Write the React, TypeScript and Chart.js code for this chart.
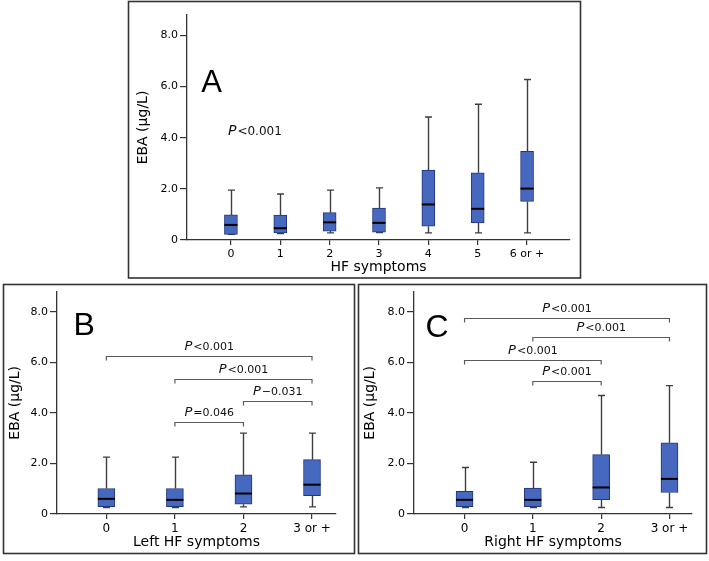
import React, { useEffect, useRef } from 'react';
import { Chart, registerables } from 'chart.js';
Chart.register(...registerables);

// ---------- DATA ----------
const catsA = ['0', '1', '2', '3', '4', '5', '6 or +'];
const minA = [0.22, 0.25, 0.28, 0.29, 0.28, 0.28, 0.28];
const q1A = [0.22, 0.28, 0.35, 0.31, 0.54, 0.67, 1.51];
const medA = [0.59, 0.46, 0.69, 0.67, 1.39, 1.22, 2.01];
const q3A = [0.98, 0.97, 1.07, 1.25, 2.73, 2.63, 3.47];
const maxA = [1.95, 1.80, 1.95, 2.04, 4.81, 5.31, 6.28];

const catsB = ['0', '1', '2', '3 or +'];
const minB = [0.26, 0.26, 0.28, 0.28];
const q1B = [0.29, 0.29, 0.39, 0.73];
const medB = [0.60, 0.56, 0.81, 1.16];
const q3B = [1.01, 1.01, 1.55, 2.15];
const maxB = [2.25, 2.25, 3.2, 3.2];

const catsC = ['0', '1', '2', '3 or +'];
const minC = [0.26, 0.26, 0.26, 0.26];
const q1C = [0.29, 0.29, 0.57, 0.85];
const medC = [0.56, 0.56, 1.05, 1.39];
const q3C = [0.90, 1.03, 2.35, 2.82];
const maxC = [1.84, 2.05, 4.69, 5.08];

const yTickValues = [0, 2, 4, 6, 8];
const yTickLabels = ['0', '2.0', '4.0', '6.0', '8.0'];

// brackets: from category, to category, level (µg/L), label after "P"
const brFromB = [0, 1, 2, 1];
const brToB = [3, 3, 3, 2];
const brLevelB = [6.24, 5.36, 4.47, 3.63];
const brTextB = ['<0.001', '<0.001', '\u22120.031', '=0.046'];

const brFromC = [0, 1, 0, 1];
const brToC = [3, 3, 2, 2];
const brLevelC = [7.74, 6.99, 6.11, 5.26];
const brTextC = ['<0.001', '<0.001', '<0.001', '<0.001'];

const overallTextA = '<0.001';

// ---------- STYLE ----------
const FONT = "'DejaVu Sans', sans-serif";
const BOX_FILL = '#4768bf';
const BOX_EDGE = '#24357a';
const AXIS = '#333';
const TEXT = '#000';

function drawPText(ctx: CanvasRenderingContext2D, rest: string, x: number, y: number, pSize: number, rSize: number, align: 'left' | 'center') {
  ctx.font = `italic ${pSize}px ${FONT}`;
  const wp = ctx.measureText('P').width;
  ctx.font = `${rSize}px ${FONT}`;
  const wr = ctx.measureText(rest).width;
  const total = wp + wr + 1;
  const sx = align === 'center' ? x - total / 2 : x;
  ctx.fillStyle = '#111';
  ctx.textAlign = 'left';
  ctx.textBaseline = 'alphabetic';
  const base = y + rSize * 0.36;
  ctx.font = `italic ${pSize}px ${FONT}`;
  ctx.fillText('P', sx, base);
  ctx.font = `${rSize}px ${FONT}`;
  ctx.fillText(rest, sx + wp + 1, base);
}

const boxPlugin = {
  id: 'boxExtras',
  beforeDraw(chart: any, _a: any, o: any) {
    const { ctx } = chart;
    ctx.save();
    ctx.strokeStyle = '#333';
    ctx.lineWidth = 1.6;
    ctx.strokeRect(o.frame[0], o.frame[1], o.frame[2], o.frame[3]);
    ctx.restore();
  },
  beforeDatasetsDraw(chart: any, _a: any, o: any) {
    const { ctx } = chart;
    const x = chart.scales.x, y = chart.scales.y;
    ctx.save();
    ctx.strokeStyle = '#3f3f3f';
    ctx.lineWidth = 1.4;
    for (let i = 0; i < o.mins.length; i++) {
      const px = Math.round(x.getPixelForValue(i)) + 0.5;
      const yMax = y.getPixelForValue(o.maxs[i]);
      const yMin = y.getPixelForValue(o.mins[i]);
      const yQ3 = y.getPixelForValue(o.q3s[i]);
      const yQ1 = y.getPixelForValue(o.q1s[i]);
      ctx.beginPath();
      ctx.moveTo(px, yQ3); ctx.lineTo(px, yMax);
      ctx.moveTo(px - o.capW / 2, yMax); ctx.lineTo(px + o.capW / 2, yMax);
      ctx.moveTo(px, yQ1); ctx.lineTo(px, yMin);
      ctx.moveTo(px - o.capW / 2, yMin); ctx.lineTo(px + o.capW / 2, yMin);
      ctx.stroke();
    }
    ctx.restore();
  },
  afterDatasetsDraw(chart: any, _a: any, o: any) {
    const { ctx } = chart;
    const x = chart.scales.x, y = chart.scales.y;
    ctx.save();
    // medians
    ctx.strokeStyle = '#000';
    ctx.lineWidth = 2;
    for (let i = 0; i < o.meds.length; i++) {
      const px = x.getPixelForValue(i);
      const py = y.getPixelForValue(o.meds[i]);
      ctx.beginPath();
      ctx.moveTo(px - o.boxW / 2, py);
      ctx.lineTo(px + o.boxW / 2, py);
      ctx.stroke();
    }
    // brackets
    ctx.strokeStyle = '#5a5a5a';
    ctx.lineWidth = 1.2;
    for (let i = 0; i < o.brFrom.length; i++) {
      const x1 = x.getPixelForValue(o.brFrom[i]);
      const x2 = x.getPixelForValue(o.brTo[i]);
      const py = Math.round(y.getPixelForValue(o.brLevel[i])) + 0.5;
      ctx.beginPath();
      ctx.moveTo(x1, py + 4); ctx.lineTo(x1, py); ctx.lineTo(x2, py); ctx.lineTo(x2, py + 4);
      ctx.stroke();
      drawPText(ctx, o.brText[i], (x1 + x2) / 2, py - 10, 13, 11, 'center');
    }
    // overall p text
    if (o.overall) {
      drawPText(ctx, o.overall, x.getPixelForValue(o.overallPos[0]), y.getPixelForValue(o.overallPos[1]), 14, 12, 'left');
    }
    // panel letter
    ctx.fillStyle = '#000';
    ctx.font = `${o.letterSize}px 'Liberation Sans', Arial, sans-serif`;
    ctx.textAlign = 'left';
    ctx.textBaseline = 'alphabetic';
    ctx.fillText(o.letter, x.getPixelForValue(o.letterPos[0]), y.getPixelForValue(o.letterPos[1]));
    ctx.restore();
  },
};

function makeConfig(p: any) {
  const { cats, mins, q1s, meds, q3s, maxs } = p;
  return {
    type: 'bar',
    data: {
      datasets: [{
        data: cats.map((_: string, i: number) => ({ x: i, y: [q1s[i], q3s[i]] })),
        backgroundColor: BOX_FILL,
        borderColor: BOX_EDGE,
        borderWidth: 1,
        borderSkipped: false,
        barThickness: p.boxW,
      }],
    },
    options: {
      responsive: false,
      animation: false,
      devicePixelRatio: 1,
      layout: { padding: p.padding },
      plugins: {
        legend: { display: false },
        tooltip: { enabled: false },
        boxExtras: {
          mins, meds, maxs, q1s, q3s,
          boxW: p.boxW, capW: p.capW,
          brFrom: p.brFrom, brTo: p.brTo, brLevel: p.brLevel, brText: p.brText,
          overall: p.overall, overallPos: p.overallPos,
          letter: p.letter, letterPos: p.letterPos, letterSize: p.letterSize,
          frame: p.frame,
        },
      },
      scales: {
        x: {
          type: 'linear',
          min: p.xMin,
          max: p.xMax,
          offset: false,
          afterBuildTicks: (s: any) => { s.ticks = cats.map((_: string, i: number) => ({ value: i })); },
          afterFit: (s: any) => { s.height = p.xHeight; },
          ticks: {
            autoSkip: false, maxRotation: 0, minRotation: 0, padding: 3,
            color: TEXT, font: { family: FONT, size: p.xTickSize },
            callback: (v: number) => cats[v] ?? '',
          },
          grid: { drawOnChartArea: false, drawTicks: true, tickLength: 5, color: AXIS, lineWidth: 1.2, offset: false },
          border: { display: true, color: AXIS, width: 1.3 },
          title: {
            display: true, text: p.xTitle, color: TEXT,
            font: { family: FONT, size: 14 }, padding: { top: 0, bottom: 4.6 },
          },
        },
        y: {
          type: 'linear',
          min: 0,
          max: 8.8,
          afterBuildTicks: (s: any) => { s.ticks = yTickValues.map((v) => ({ value: v })); },
          afterFit: (s: any) => { s.width = p.yWidth; },
          ticks: {
            padding: 2, color: TEXT, font: { family: FONT, size: 11 },
            callback: (v: number) => yTickLabels[yTickValues.indexOf(v)] ?? '',
          },
          grid: { drawOnChartArea: false, drawTicks: true, tickLength: 7, color: AXIS, lineWidth: 1.2 },
          border: { display: true, color: AXIS, width: 1.3 },
          title: {
            display: true, text: 'EBA (\u00b5g/L)', color: TEXT,
            font: { family: FONT, size: 14 }, padding: { top: p.yTitlePad, bottom: 0 },
          },
        },
      },
    },
    plugins: [boxPlugin],
  };
}

function Panel({ left, top, width, height, params }: any) {
  const ref = useRef<HTMLCanvasElement>(null);
  useEffect(() => {
    const chart = new Chart(ref.current as HTMLCanvasElement, makeConfig(params) as any);
    return () => chart.destroy();
  }, []);
  return (
    <canvas
      ref={ref}
      width={width}
      height={height}
      style={{ position: 'absolute', left, top, width, height }}
    />
  );
}

const panelA = {
  cats: catsA, mins: minA, q1s: q1A, meds: medA, q3s: q3A, maxs: maxA,
  boxW: 13, capW: 7, xMin: -0.89, xMax: 6.87, xHeight: 40, yWidth: 61, yTitlePad: 8.6,
  padding: { left: 0, right: 14, top: 15, bottom: 0 }, xTickSize: 11,
  xTitle: 'HF symptoms', brFrom: [], brTo: [], brLevel: [], brText: [],
  overall: overallTextA, overallPos: [-0.06, 4.26],
  letter: 'A', letterPos: [-0.6, 5.8], letterSize: 31,
  frame: [2.5, 1.5, 452, 276.5],
};

const panelB = {
  cats: catsB, mins: minB, q1s: q1B, meds: medB, q3s: q3B, maxs: maxB,
  boxW: 17, capW: 7, xMin: -0.72, xMax: 3.35, xHeight: 41, yWidth: 55, yTitlePad: 4.6,
  padding: { left: 0, right: 20, top: 6, bottom: 0 }, xTickSize: 12,
  xTitle: 'Left HF symptoms', brFrom: brFromB, brTo: brToB, brLevel: brLevelB, brText: brTextB,
  overall: null, overallPos: [0, 0],
  letter: 'B', letterPos: [-0.48, 7.1], letterSize: 32,
  frame: [1.5, 1.5, 351, 269],
};

const panelC = {
  cats: catsC, mins: minC, q1s: q1C, meds: medC, q3s: q3C, maxs: maxC,
  boxW: 17, capW: 7, xMin: -0.74, xMax: 3.33, xHeight: 41, yWidth: 57, yTitlePad: 4.6,
  padding: { left: 0, right: 16, top: 6, bottom: 0 }, xTickSize: 12,
  xTitle: 'Right HF symptoms', brFrom: brFromC, brTo: brToC, brLevel: brLevelC, brText: brTextC,
  overall: null, overallPos: [0, 0],
  letter: 'C', letterPos: [-0.57, 7.02], letterSize: 32,
  frame: [1.5, 1.5, 348, 269],
};

export default function App() {
  return (
    <div style={{ position: 'absolute', left: 0, top: 0, width: 709, height: 561, background: '#fff' }}>
      <Panel left={126} top={0} width={458} height={280} params={panelA} />
      <Panel left={2} top={283} width={354} height={272} params={panelB} />
      <Panel left={357} top={283} width={351} height={272} params={panelC} />
    </div>
  );
}
